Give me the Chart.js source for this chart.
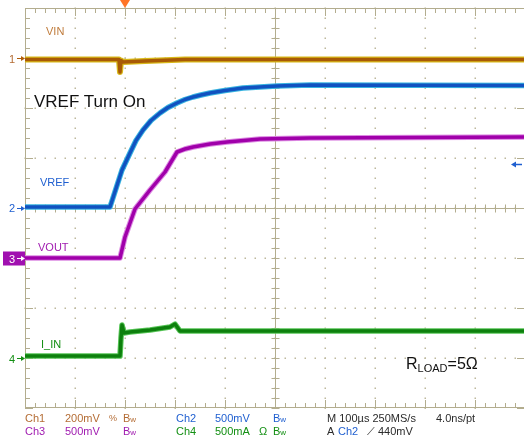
<!DOCTYPE html>
<html>
<head>
<meta charset="utf-8">
<script src="https://cdn.jsdelivr.net/npm/chart.js@4.4.1/dist/chart.umd.min.js"></script>
<style>
html, body { margin: 0; padding: 0; background: #fff; }
body { width: 524px; height: 441px; overflow: hidden; position: relative; font-family: "Liberation Sans", Arial, sans-serif; }
#scope { position: absolute; left: 0; top: 0; }
.t { position: absolute; font-size: 11px; line-height: 12px; white-space: nowrap; }
.bw { font-size: 8px; }
.ch1 { color: #b46c34; }
.ch2 { color: #1f5fd0; }
.ch3 { color: #a01cb0; }
.ch4 { color: #138f13; }
.dk { color: #2a2a2a; }
</style>
</head>
<body>
<canvas id="scope" width="525" height="441"></canvas>

<div class="t ch1" style="left:46px;top:25px;color:#c07c3c">VIN</div>
<div class="t" style="left:34px;top:92px;font-size:17px;line-height:20px;color:#111">VREF Turn On</div>
<div class="t ch2" style="left:40px;top:176px">VREF</div>
<div class="t ch3" style="left:38px;top:241px">VOUT</div>
<div class="t ch4" style="left:41px;top:338px">I_IN</div>
<div class="t" style="left:406px;top:355px;font-size:16px;line-height:18px;color:#111">R<span style="font-size:11px;position:relative;top:3px">LOAD</span>=5Ω</div>

<div class="t ch1" style="left:9px;top:53px">1</div>
<div class="t ch2" style="left:9px;top:202px">2</div>
<div class="t" style="left:9px;top:253px;color:#fff">3</div>
<div class="t ch4" style="left:9px;top:353px">4</div>

<div class="t ch1" style="left:25px;top:412px">Ch1</div>
<div class="t ch1" style="left:65px;top:412px">200mV</div>
<div class="t ch1" style="left:109px;top:412px;font-size:9px">%</div>
<div class="t ch1" style="left:123px;top:412px">B<span class="bw">w</span></div>
<div class="t ch2" style="left:176px;top:412px">Ch2</div>
<div class="t ch2" style="left:215px;top:412px">500mV</div>
<div class="t ch2" style="left:273px;top:412px">B<span class="bw">w</span></div>
<div class="t dk" style="left:327px;top:412px">M 100µs 250MS/s</div>
<div class="t dk" style="left:436px;top:412px">4.0ns/pt</div>

<div class="t ch3" style="left:25px;top:425px">Ch3</div>
<div class="t ch3" style="left:65px;top:425px">500mV</div>
<div class="t ch3" style="left:123px;top:425px">B<span class="bw">w</span></div>
<div class="t ch4" style="left:176px;top:425px">Ch4</div>
<div class="t ch4" style="left:215px;top:425px">500mA</div>
<div class="t ch4" style="left:259px;top:425px">Ω</div>
<div class="t ch4" style="left:273px;top:425px">B<span class="bw">w</span></div>
<div class="t dk" style="left:327px;top:425px">A</div>
<div class="t ch2" style="left:338px;top:425px">Ch2</div>
<div class="t dk" style="left:367px;top:425px">⟋</div>
<div class="t dk" style="left:378px;top:425px">440mV</div>

<script>
// time in microseconds (100 us/div), levels in screen divisions
const vinTime = [0, 188, 190, 192, 196, 240, 320, 1000];
const vinLevel = [2.97, 2.97, 2.72, 2.95, 2.92, 2.94, 2.97, 2.97];

const vrefTime = [0, 170, 194, 210, 222, 236, 252, 270, 286, 304, 320, 336, 352, 370, 400, 436, 470, 504, 570, 1000];
const vrefLevel = [0.02, 0.02, 0.76, 1.10, 1.35, 1.56, 1.75, 1.90, 2.01, 2.10, 2.17, 2.22, 2.26, 2.30, 2.35, 2.40, 2.42, 2.44, 2.46, 2.45];

const voutTime = [0, 190, 200, 220, 250, 280, 304, 320, 336, 370, 404, 470, 570, 1000];
const voutLevel = [-1.0, -1.0, -0.58, -0.02, 0.36, 0.72, 1.12, 1.18, 1.22, 1.28, 1.32, 1.38, 1.40, 1.42];

const iinTime = [0, 190, 192, 194, 198, 210, 250, 290, 300, 310, 1000];
const iinLevel = [-2.96, -2.96, -2.6, -2.34, -2.5, -2.48, -2.44, -2.38, -2.32, -2.46, -2.46];

// channel ground markers (divisions) and colours
const channelZero = [3, 0, -1, -3];
const channelColor = ['#b05c08', '#1f5fd0', '#a010b0', '#138f13'];
const triggerTime = 200;
const triggerLevel = 0.88;

function pts(t, v) {
    return t.map(function (tt, i) { return { x: tt, y: v[i] }; });
}

// dataset 0 is drawn last (on top), so core line goes before its halo
function trace(t, v, color, width) {
    return {
        data: pts(t, v),
        borderColor: color,
        borderWidth: width,
        pointRadius: 0,
        fill: false,
        tension: 0,
        borderJoinStyle: 'round'
    };
}

const scopeFrame = {
    id: 'scopeFrame',
    beforeDatasetsDraw(chart) {
        const ctx = chart.ctx;
        const a = chart.chartArea;
        const x = chart.scales.x;
        const y = chart.scales.y;
        ctx.save();

        // dotted graticule
        ctx.fillStyle = '#bdb89c';
        for (let i = 1; i < 10; i++) {
            const px = Math.round(x.getPixelForValue(i * 100));
            for (let v = -4; v <= 4.001; v += 0.2) {
                ctx.fillRect(px - 0.5, Math.round(y.getPixelForValue(v)) - 0.5, 1.5, 1.5);
            }
        }
        for (let j = -3; j <= 3; j++) {
            const py = Math.round(y.getPixelForValue(j));
            for (let t = 0; t <= 1000; t += 20) {
                ctx.fillRect(Math.round(x.getPixelForValue(t)) - 0.5, py - 0.5, 1.5, 1.5);
            }
        }

        ctx.strokeStyle = '#b3ad8e';
        ctx.lineWidth = 1;
        const cx = Math.round(x.getPixelForValue(500)) + 0.5;
        const cy = Math.round(y.getPixelForValue(0)) + 0.5;
        ctx.beginPath();
        // border
        ctx.moveTo(a.left + 0.5, a.top + 0.5);
        ctx.lineTo(a.right, a.top + 0.5);
        ctx.moveTo(a.left + 0.5, a.top);
        ctx.lineTo(a.left + 0.5, a.bottom);
        ctx.moveTo(a.left, a.bottom - 0.5);
        ctx.lineTo(a.right, a.bottom - 0.5);
        // centre cross
        ctx.moveTo(cx, a.top);
        ctx.lineTo(cx, a.bottom);
        ctx.moveTo(a.left, cy);
        ctx.lineTo(a.right, cy);
        // ticks along the cross and edges
        for (let t = 0; t <= 1000; t += 20) {
            const px = Math.round(x.getPixelForValue(t)) + 0.5;
            const major = t % 100 === 0 ? 3 : 0;
            ctx.moveTo(px, cy - 4); ctx.lineTo(px, cy + 4);
            ctx.moveTo(px, a.top); ctx.lineTo(px, a.top + 5 + major);
            ctx.moveTo(px, a.bottom); ctx.lineTo(px, a.bottom - 5 - major);
        }
        for (let k = 0; k <= 40; k++) {
            const v = -4 + k * 0.2;
            const py = Math.round(y.getPixelForValue(v)) + 0.5;
            const major = k % 5 === 0 ? 3 : 0;
            ctx.moveTo(cx - 4, py); ctx.lineTo(cx + 4, py);
            ctx.moveTo(a.left, py); ctx.lineTo(a.left + 5 + major, py);
            if (major) { ctx.moveTo(a.right, py); ctx.lineTo(a.right - 8, py); }
        }
        ctx.stroke();

        // trigger position marker
        const tx = x.getPixelForValue(triggerTime);
        ctx.fillStyle = '#ff7425';
        ctx.beginPath();
        ctx.moveTo(tx - 5, 0);
        ctx.lineTo(tx + 5, 0);
        ctx.lineTo(tx, 8);
        ctx.closePath();
        ctx.fill();

        // trigger level arrow (right)
        const ty = Math.round(y.getPixelForValue(triggerLevel)) + 0.5;
        ctx.strokeStyle = channelColor[1];
        ctx.fillStyle = channelColor[1];
        ctx.lineWidth = 1.5;
        ctx.beginPath();
        ctx.moveTo(514, ty); ctx.lineTo(522, ty);
        ctx.stroke();
        ctx.beginPath();
        ctx.moveTo(511, ty); ctx.lineTo(516, ty - 3); ctx.lineTo(516, ty + 3);
        ctx.closePath();
        ctx.fill();

        // channel ground markers (left)
        channelZero.forEach(function (lv, i) {
            const py = Math.round(y.getPixelForValue(lv)) + 0.5;
            if (i === 2) {
                ctx.fillStyle = channelColor[2];
                ctx.fillRect(3, py - 7, 22, 14);
            }
            const c = i === 2 ? '#ffffff' : channelColor[i];
            ctx.strokeStyle = c;
            ctx.fillStyle = c;
            ctx.lineWidth = 1;
            ctx.beginPath();
            ctx.moveTo(17, py); ctx.lineTo(22, py);
            ctx.stroke();
            ctx.beginPath();
            ctx.moveTo(25, py); ctx.lineTo(21, py - 2.5); ctx.lineTo(21, py + 2.5);
            ctx.closePath();
            ctx.fill();
        });
        ctx.restore();
    }
};

new Chart(document.getElementById('scope').getContext('2d'), {
    type: 'line',
    data: {
        datasets: [
            trace(vinTime, vinLevel, '#a85a06', 3.5),
            trace(vinTime, vinLevel, '#d8b818', 6),
            trace(vrefTime, vrefLevel, '#1152c0', 3.5),
            trace(vrefTime, vrefLevel, '#38b4e0', 5.5),
            trace(voutTime, voutLevel, '#a000aa', 3.5),
            trace(voutTime, voutLevel, '#dc8ae2', 5.5),
            trace(iinTime, iinLevel, '#0d800d', 3.5),
            trace(iinTime, iinLevel, '#56c456', 5.5)
        ]
    },
    options: {
        responsive: false,
        animation: false,
        events: [],
        layout: { padding: { left: 25, top: 8, right: 0, bottom: 33 } },
        scales: {
            x: { type: 'linear', min: 0, max: 1000, display: false },
            y: { type: 'linear', min: -4, max: 4, display: false }
        },
        plugins: {
            legend: { display: false },
            tooltip: { enabled: false }
        }
    },
    plugins: [scopeFrame]
});
</script>
</body>
</html>
